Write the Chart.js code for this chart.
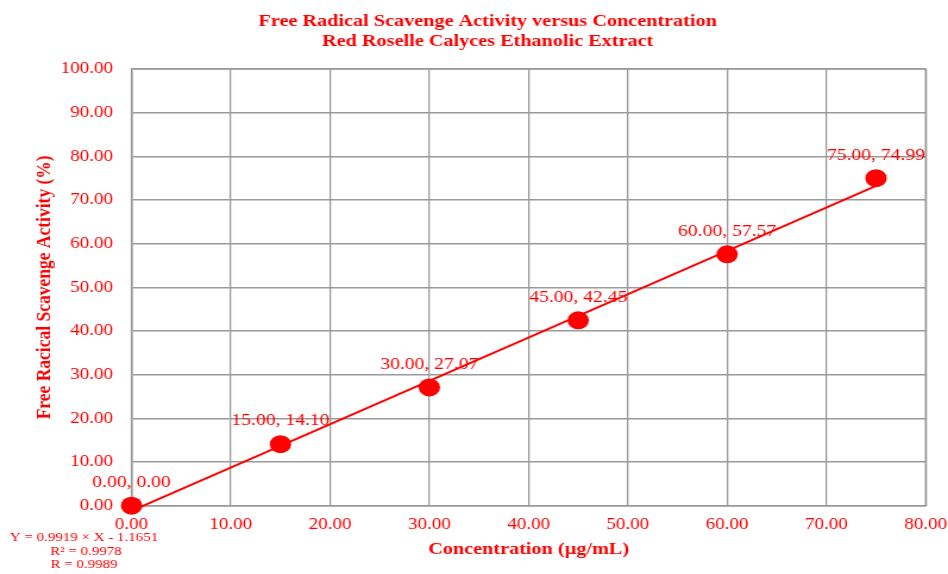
<!DOCTYPE html>
<html>
<head>
<meta charset="utf-8">
<script src="https://cdn.jsdelivr.net/npm/chart.js@4/dist/chart.umd.min.js"></script>
<style>
  html, body { margin: 0; padding: 0; background: #ffffff; overflow: hidden; }
  /* the chart is laid out narrower and widened to the full 948px page */
  #wrap { width: 797px; height: 574px; position: relative; transform: scaleX(1.18946); transform-origin: 0 0; }
</style>
</head>
<body>
<div id="wrap"><canvas id="chart"></canvas></div>
<script>
// Concentration (µg/mL) and measured scavenging activity (%)
const concentration = [0, 15, 30, 45, 60, 75];
const scavengeActivity = [0.00, 14.10, 27.07, 42.45, 57.57, 74.99];

// Linear regression reported for the series
const fitSlope = 0.9919;
const fitIntercept = -1.1651;
const fitR2 = 0.9978;
const fitR = 0.9989;

const xTicks = [0, 10, 20, 30, 40, 50, 60, 70, 80];
const yTicks = [0, 10, 20, 30, 40, 50, 60, 70, 80, 90, 100];

const titleLines = ['Free Radical Scavenge Activity versus Concentration', 'Red Roselle Calyces Ethanolic Extract'];

const RED = '#ff0000';
const GRID = '#9a9a9a';
const SERIF = "'Liberation Serif', 'Times New Roman', serif";

const points = concentration.map((x, i) => ({ x: x, y: scavengeActivity[i] }));
const xFirst = concentration[0];
const xLast = concentration[concentration.length - 1];
const fitLine = [
  { x: xFirst, y: fitSlope * xFirst + fitIntercept },
  { x: xLast, y: fitSlope * xLast + fitIntercept }
];

// Two-line heading above the plot
const heading = {
  id: 'heading',
  afterDraw(chart) {
    const ctx = chart.ctx;
    ctx.save();
    ctx.font = 'bold 17px ' + SERIF;
    ctx.fillStyle = RED;
    ctx.textAlign = 'center';
    ctx.textBaseline = 'middle';
    ctx.fillText(titleLines[0], 410, 21.7);
    ctx.fillText(titleLines[1], 410, 41.7);
    ctx.restore();
  }
};

// Writes "x, y" above each measured point
const pointLabels = {
  id: 'pointLabels',
  afterDatasetsDraw(chart) {
    const ctx = chart.ctx;
    const meta = chart.getDatasetMeta(1);
    ctx.save();
    ctx.font = '16.5px ' + SERIF;
    ctx.fillStyle = RED;
    ctx.textAlign = 'center';
    ctx.textBaseline = 'middle';
    meta.data.forEach((el, i) => {
      const txt = concentration[i].toFixed(2) + ', ' + scavengeActivity[i].toFixed(2);
      ctx.fillText(txt, el.x, el.y - 23);
    });
    ctx.restore();
  }
};

// Regression equation block in the lower-left corner
const equationBox = {
  id: 'equationBox',
  afterDraw(chart) {
    const ctx = chart.ctx;
    ctx.save();
    ctx.font = '12.6px ' + SERIF;
    ctx.fillStyle = RED;
    ctx.textAlign = 'center';
    ctx.textBaseline = 'middle';
    const sign = fitIntercept < 0 ? ' - ' : ' + ';
    ctx.fillText('Y = ' + fitSlope.toFixed(4) + ' \u00d7 X' + sign + Math.abs(fitIntercept).toFixed(4), 70.6, 538);
    ctx.fillText('R\u00b2 = ' + fitR2.toFixed(4), 72.3, 551.5);
    ctx.fillText('R = ' + fitR.toFixed(4), 70.6, 564.5);
    ctx.restore();
  }
};

// Closes the plot frame on the top and right edges
const frame = {
  id: 'frame',
  beforeDatasetsDraw(chart) {
    const { ctx, chartArea: a } = chart;
    ctx.save();
    ctx.strokeStyle = GRID;
    ctx.lineWidth = 1.4;
    ctx.strokeRect(a.left, a.top, a.right - a.left, a.bottom - a.top);
    ctx.restore();
  }
};

new Chart(document.getElementById('chart'), {
  type: 'scatter',
  data: {
    datasets: [
      {
        label: 'Linear fit',
        data: fitLine,
        showLine: true,
        borderColor: RED,
        borderWidth: 2,
        pointRadius: 0,
        fill: false,
        clip: false,
        order: 2
      },
      {
        label: 'Scavenge activity',
        data: points,
        backgroundColor: RED,
        borderColor: RED,
        borderWidth: 0,
        pointRadius: 9,
        pointHoverRadius: 9,
        showLine: false,
        clip: false,
        order: 1
      }
    ]
  },
  options: {
    responsive: true,
    maintainAspectRatio: false,
    animation: false,
    layout: { padding: { left: 0, right: 18.8, top: 69, bottom: 0 } },
    plugins: {
      legend: { display: false },
      tooltip: { enabled: false },
      title: { display: false }
    },
    scales: {
      x: {
        type: 'linear',
        min: 0,
        max: 80,
        afterBuildTicks(scale) { scale.ticks = xTicks.map(v => ({ value: v })); },
        afterFit(scale) {
          scale.height = 68.3;
          // end labels may run into the outer margin
          scale.paddingLeft = 0;
          scale.paddingRight = 0;
        },
        grid: { color: GRID, lineWidth: 1.3, drawTicks: false },
        border: { color: GRID, width: 1.3 },
        ticks: {
          color: RED,
          padding: 9,
          maxRotation: 0,
          font: { family: SERIF, size: 16 },
          callback: v => Number(v).toFixed(2)
        },
        title: {
          display: true,
          text: 'Concentration (\u00b5g/mL)',
          color: RED,
          font: { family: SERIF, size: 17, weight: 'bold', lineHeight: 1.2 },
          padding: { top: 0, bottom: 13.8 }
        }
      },
      y: {
        type: 'linear',
        min: 0,
        max: 100,
        afterBuildTicks(scale) { scale.ticks = yTicks.map(v => ({ value: v })); },
        afterFit(scale) { scale.width = 110.6; },
        grid: { color: GRID, lineWidth: 1.4, drawTicks: false },
        border: { color: GRID, width: 1.4 },
        ticks: {
          color: RED,
          padding: 15.6,
          font: { family: SERIF, size: 16 },
          callback: v => Number(v).toFixed(2)
        },
        title: {
          display: true,
          text: 'Free Racical Scavenge Activity (%)',
          color: RED,
          font: { family: SERIF, size: 17.5, weight: 'bold', lineHeight: 1.2 },
          padding: { top: 26.5, bottom: 0 }
        }
      }
    }
  },
  plugins: [heading, pointLabels, equationBox, frame]
});
</script>
</body>
</html>
